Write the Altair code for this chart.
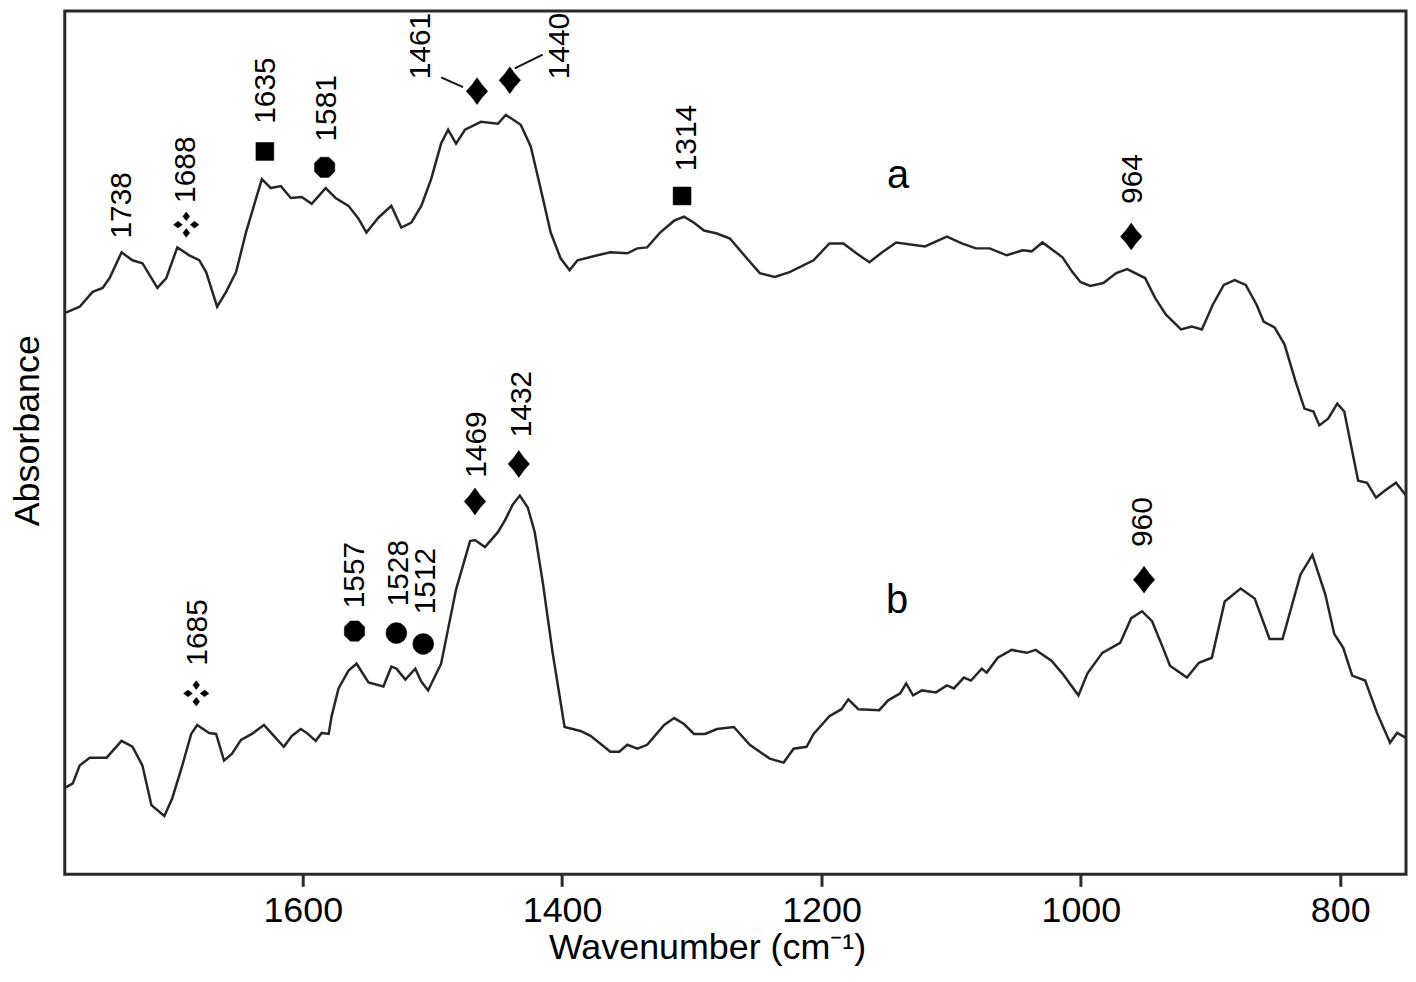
import altair as alt
import pandas as pd

FONT = "Liberation Sans, Arial, Helvetica, sans-serif"

# ---- spectrum a (upper trace) ----
a_wn = [1782.7, 1772.0, 1762.0, 1754.3, 1748.9, 1739.7, 1731.3, 1723.6, 1712.1, 1705.2,
        1696.7, 1687.5, 1679.8, 1674.5, 1666.0, 1659.1, 1651.4, 1643.8, 1636.1, 1631.5,
        1624.6, 1616.9, 1609.2, 1600.8, 1593.1, 1582.3, 1574.7, 1564.7, 1557.0, 1550.9,
        1541.7, 1531.7, 1524.0, 1516.3, 1508.6, 1501.0, 1493.3, 1487.9, 1481.8, 1474.9,
        1462.6, 1449.5, 1443.4, 1431.9, 1424.2, 1416.5, 1408.8, 1401.2, 1394.2, 1388.1,
        1372.7, 1362.8, 1349.7, 1342.0, 1334.4, 1324.4, 1313.6, 1306.0, 1298.3, 1290.6,
        1280.6, 1270.6, 1257.6, 1247.6, 1236.1, 1224.6, 1206.1, 1193.9, 1183.1, 1173.1,
        1163.1, 1153.2, 1142.4, 1120.2, 1103.3, 1091.8, 1081.0, 1070.3, 1057.2, 1044.9,
        1038.0, 1029.6, 1014.2, 1006.5, 1000.4, 992.7, 982.7, 972.7, 964.3, 950.5,
        942.8, 934.4, 922.8, 914.4, 906.7, 898.3, 889.8, 881.4, 872.9, 864.5,
        859.1, 850.7, 843.0, 834.6, 827.6, 820.7, 816.1, 809.2, 802.3, 796.9,
        793.1, 786.2, 779.3, 772.4, 764.7, 757.0, 749.3]
a_abs = [1.136, 1.148, 1.178, 1.186, 1.206, 1.258, 1.242, 1.236, 1.186, 1.206,
         1.268, 1.252, 1.242, 1.218, 1.148, 1.178, 1.218, 1.298, 1.366, 1.406,
         1.388, 1.392, 1.368, 1.370, 1.356, 1.388, 1.368, 1.352, 1.326, 1.298,
         1.328, 1.352, 1.308, 1.318, 1.352, 1.406, 1.478, 1.506, 1.478, 1.506,
         1.522, 1.518, 1.536, 1.516, 1.472, 1.386, 1.298, 1.246, 1.222, 1.242,
         1.252, 1.258, 1.256, 1.266, 1.268, 1.298, 1.322, 1.330, 1.318, 1.302,
         1.296, 1.286, 1.246, 1.216, 1.208, 1.218, 1.242, 1.276, 1.276, 1.256,
         1.238, 1.258, 1.278, 1.270, 1.290, 1.276, 1.266, 1.266, 1.252, 1.262,
         1.260, 1.278, 1.248, 1.218, 1.198, 1.190, 1.196, 1.216, 1.224, 1.206,
         1.166, 1.132, 1.102, 1.108, 1.102, 1.152, 1.192, 1.202, 1.192, 1.152,
         1.118, 1.106, 1.072, 0.998, 0.942, 0.936, 0.908, 0.922, 0.952, 0.936,
         0.886, 0.796, 0.792, 0.762, 0.778, 0.792, 0.766]

# ---- spectrum b (lower trace) ----
b_wn = [1782.7, 1777.3, 1772.0, 1764.3, 1751.2, 1739.7, 1731.3, 1723.6, 1716.7, 1706.7,
        1700.6, 1692.9, 1686.0, 1681.4, 1672.2, 1666.8, 1660.7, 1654.5, 1647.6, 1639.2,
        1629.9, 1622.3, 1614.6, 1608.4, 1601.5, 1596.9, 1590.0, 1585.4, 1580.0, 1577.7,
        1572.4, 1564.7, 1558.5, 1549.3, 1537.8, 1531.7, 1527.8, 1520.9, 1513.2, 1508.6,
        1503.3, 1493.3, 1481.8, 1471.0, 1467.2, 1459.5, 1449.5, 1444.1, 1438.0, 1432.6,
        1426.5, 1421.1, 1415.0, 1407.3, 1398.1, 1385.8, 1378.1, 1362.8, 1355.9, 1349.7,
        1342.0, 1334.4, 1321.3, 1313.6, 1306.0, 1298.3, 1289.8, 1280.6, 1267.6, 1255.3,
        1239.9, 1229.2, 1221.5, 1211.5, 1206.1, 1193.9, 1184.6, 1179.3, 1171.6, 1155.5,
        1148.6, 1139.3, 1134.7, 1129.4, 1122.5, 1111.7, 1103.3, 1097.9, 1090.2, 1084.8,
        1076.4, 1072.6, 1064.1, 1053.4, 1041.8, 1034.9, 1022.7, 1014.2, 1001.9, 995.0,
        983.5, 969.7, 961.2, 952.8, 945.1, 936.7, 931.3, 918.2, 909.0, 899.0,
        889.1, 876.8, 866.0, 854.5, 844.5, 830.7, 821.5, 811.5, 804.6, 797.7,
        790.8, 780.8, 771.6, 761.6, 756.2, 749.3]
b_abs = [0.176, 0.184, 0.220, 0.236, 0.236, 0.270, 0.258, 0.220, 0.140, 0.118,
         0.154, 0.220, 0.284, 0.302, 0.286, 0.284, 0.230, 0.244, 0.272, 0.284,
         0.302, 0.280, 0.258, 0.280, 0.294, 0.286, 0.270, 0.286, 0.284, 0.320,
         0.376, 0.412, 0.426, 0.388, 0.380, 0.420, 0.416, 0.394, 0.416, 0.390,
         0.372, 0.426, 0.576, 0.674, 0.676, 0.662, 0.692, 0.716, 0.748, 0.766,
         0.742, 0.692, 0.592, 0.448, 0.298, 0.290, 0.280, 0.248, 0.248, 0.262,
         0.254, 0.262, 0.302, 0.316, 0.304, 0.284, 0.284, 0.294, 0.298, 0.262,
         0.234, 0.226, 0.254, 0.258, 0.284, 0.320, 0.334, 0.354, 0.334, 0.332,
         0.352, 0.366, 0.386, 0.362, 0.372, 0.368, 0.382, 0.376, 0.398, 0.392,
         0.416, 0.408, 0.438, 0.454, 0.448, 0.454, 0.432, 0.406, 0.362, 0.406,
         0.448, 0.468, 0.518, 0.532, 0.512, 0.458, 0.422, 0.398, 0.428, 0.438,
         0.552, 0.578, 0.558, 0.476, 0.476, 0.606, 0.646, 0.566, 0.486, 0.458,
         0.402, 0.392, 0.326, 0.266, 0.286, 0.276]

# ---- band markers ----
marker_kind = ["four", "square", "octagon", "diamond", "diamond", "square", "diamond",
               "four", "octagon", "circle", "circle", "diamond", "diamond", "diamond"]
marker_wn = [1689.8, 1629.2, 1583.1, 1465.6, 1440.3, 1307.5, 961.2,
             1682.1, 1560.1, 1527.8, 1507.1, 1467.2, 1433.4, 951.3]
marker_abs = [1.314, 1.462, 1.430, 1.584, 1.606, 1.372, 1.290,
              0.366, 0.492, 0.488, 0.466, 0.754, 0.830, 0.596]

# ---- band labels (anchored at the start of the vertical text) ----
label_text = ["1738", "1688", "1635", "1581", "1461", "1440", "1314", "964",
              "1685", "1557", "1528", "1512", "1469", "1432", "960"]
label_wn = [1739.7, 1689.8, 1628.4, 1581.6, 1508.6, 1401.9, 1303.6, 959.7,
            1680.6, 1559.3, 1525.5, 1504.8, 1465.6, 1431.1, 952.0]
label_abs = [1.286, 1.358, 1.518, 1.482, 1.608, 1.608, 1.422, 1.356,
             0.422, 0.538, 0.542, 0.526, 0.802, 0.884, 0.662]

# ---- leader lines for 1461 / 1440 ----
leader_wn = [1493.3, 1436.5]
leader_wn2 = [1476.4, 1415.0]
leader_abs = [1.612, 1.630]
leader_abs2 = [1.592, 1.658]

# ---- trace names ----
series_name = ["a", "b"]
series_wn = [1140.9, 1141.7]
series_abs = [1.388, 0.528]

x_ticks = [800, 1000, 1200, 1400, 1600]

spec = pd.DataFrame({
    "wn": a_wn + b_wn,
    "A": a_abs + b_abs,
    "series": ["a"] * len(a_wn) + ["b"] * len(b_wn),
    "i": list(range(len(a_wn))) + list(range(len(b_wn))),
})
markers = pd.DataFrame({"kind": marker_kind, "wn": marker_wn, "A": marker_abs})
labels = pd.DataFrame({"label": label_text, "wn": label_wn, "A": label_abs})
leaders = pd.DataFrame({"wn": leader_wn, "wn2": leader_wn2, "A": leader_abs, "A2": leader_abs2})
names = pd.DataFrame({"name": series_name, "wn": series_wn, "A": series_abs})

xs = alt.Scale(domain=[749.3, 1783.5], reverse=True, nice=False, zero=False)
ys = alt.Scale(domain=[0, 1.746], nice=False, zero=False)

X = alt.X(
    "wn:Q", scale=xs,
    axis=alt.Axis(
        values=x_ticks, format="d", grid=False, domain=False,
        ticks=True, tickSize=12, tickWidth=3, tickColor="#2a2a2a",
        labelFontSize=36, labelFont=FONT, labelColor="#000000", labelPadding=7,
        labelFlush=False, labelOverlap=False,
        title="Wavenumber (cm\u207b\u00b9)", titleFontSize=36, titleFont=FONT,
        titleFontWeight="normal", titleColor="#000000",
        titleX=645, titleY=85, titleAlign="center", titleBaseline="alphabetic",
    ),
)
Y = alt.Y(
    "A:Q", scale=ys,
    axis=alt.Axis(
        grid=False, domain=False, ticks=False, labels=False,
        title="Absorbance", titleFontSize=36, titleFont=FONT,
        titleFontWeight="normal", titleColor="#000000",
        titleAngle=270, titleX=-37, titleY=421,
        titleAlign="center", titleBaseline="middle",
    ),
)

lines = alt.Chart(spec).mark_line(color="#262626", strokeWidth=2.5).encode(
    x=X, y=Y, detail="series:N", order="i:Q"
)

DIAMOND = "M0,-1Q0.36,-0.44 0.8,0Q0.36,0.44 0,1Q-0.36,0.44 -0.8,0Q-0.36,-0.44 0,-1Z"
FOUR = ("M0,-0.98L0.26,-0.64L0,-0.3L-0.26,-0.64Z"
        "M0,0.3L0.26,0.64L0,0.98L-0.26,0.64Z"
        "M-0.98,0L-0.64,-0.26L-0.3,0L-0.64,0.26Z"
        "M0.3,0L0.64,-0.26L0.98,0L0.64,0.26Z")
OCTAGON = ("M0.383,-0.924L0.924,-0.383L0.924,0.383L0.383,0.924"
           "L-0.383,0.924L-0.924,0.383L-0.924,-0.383L-0.383,-0.924Z")

shape_specs = [
    ("four", FOUR, 676),
    ("square", "square", 324),
    ("octagon", OCTAGON, 484),
    ("circle", "circle", 441),
    ("diamond", DIAMOND, 729),
]
marker_layers = []
for kind, shape, size in shape_specs:
    marker_layers.append(
        alt.Chart(markers).transform_filter(alt.datum.kind == kind)
        .mark_point(shape=shape, size=size, filled=True, fill="#000000",
                    stroke="#000000", strokeWidth=0.5, opacity=1)
        .encode(x=X, y=Y)
    )

band_labels = alt.Chart(labels).mark_text(
    font=FONT, fontSize=30, angle=270, align="left", baseline="middle", color="#000000"
).encode(x=X, y=Y, text="label:N")

leader_rules = alt.Chart(leaders).mark_rule(color="#111111", strokeWidth=2).encode(
    x=X, x2="wn2:Q", y=Y, y2="A2:Q"
)

name_text = alt.Chart(names).mark_text(
    font=FONT, fontSize=40, align="center", baseline="alphabetic", color="#000000"
).encode(x=X, y=Y, text="name:N")

chart = alt.layer(lines, *marker_layers, band_labels, leader_rules, name_text).properties(
    width=1347,
    height=867,
    background="#ffffff",
    autosize=alt.AutoSizeParams(type="none"),
    padding={"left": 57, "top": 1, "right": 2, "bottom": 92},
).configure_view(stroke="#2a2a2a", strokeWidth=3)

chart.save("out.html", embed_options={"renderer": "svg", "actions": False})
